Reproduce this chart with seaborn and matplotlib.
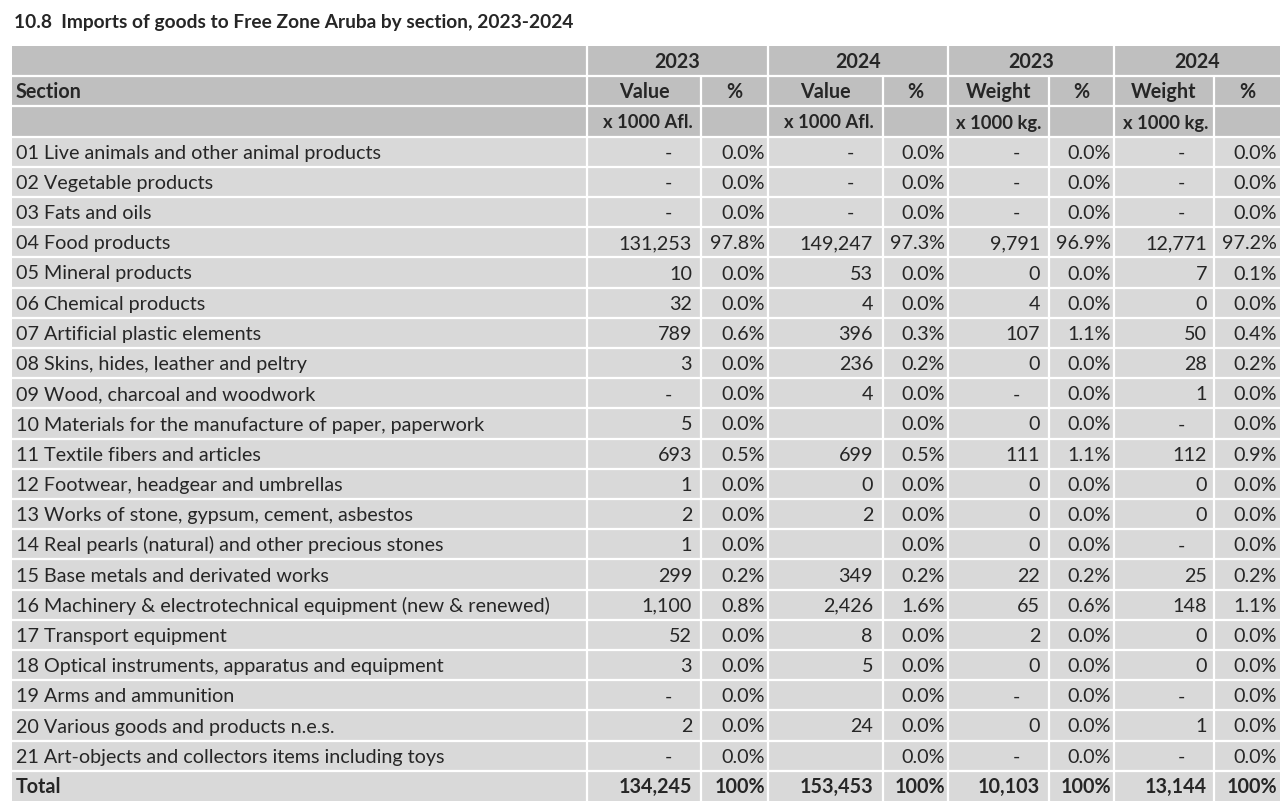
import numpy as np
import matplotlib.pyplot as plt
import matplotlib.patches as mpatches
import seaborn as sns

sns.set_theme(style="white")
plt.rcParams['font.family'] = ['Lato', 'DejaVu Sans']

title = '10.8  Imports of goods to Free Zone Aruba by section, 2023-2024'

sections = [
    '01 Live animals and other animal products',
    '02 Vegetable products',
    '03 Fats and oils',
    '04 Food products',
    '05 Mineral products',
    '06 Chemical products',
    '07 Artificial plastic elements',
    '08 Skins, hides, leather and peltry',
    '09 Wood, charcoal and woodwork',
    '10 Materials for the manufacture of paper, paperwork',
    '11 Textile fibers and articles',
    '12 Footwear, headgear and umbrellas',
    '13 Works of stone, gypsum, cement, asbestos',
    '14 Real pearls (natural) and other precious stones',
    '15 Base metals and derivated works',
    '16 Machinery & electrotechnical equipment (new & renewed)',
    '17 Transport equipment',
    '18 Optical instruments, apparatus and equipment',
    '19 Arms and ammunition',
    '20 Various goods and products n.e.s.',
    '21 Art-objects and collectors items including toys',
]

# None = '-' (nil), nan = empty cell
N = None
E = np.nan
value_2023 = [N, N, N, 131253, 10, 32, 789, 3, N, 5, 693, 1, 2, 1, 299, 1100, 52, 3, N, 2, N]
pct_value_2023 = [0.0, 0.0, 0.0, 97.8, 0.0, 0.0, 0.6, 0.0, 0.0, 0.0, 0.5, 0.0, 0.0, 0.0, 0.2, 0.8, 0.0, 0.0, 0.0, 0.0, 0.0]
value_2024 = [N, N, N, 149247, 53, 4, 396, 236, 4, E, 699, 0, 2, E, 349, 2426, 8, 5, E, 24, E]
pct_value_2024 = [0.0, 0.0, 0.0, 97.3, 0.0, 0.0, 0.3, 0.2, 0.0, 0.0, 0.5, 0.0, 0.0, 0.0, 0.2, 1.6, 0.0, 0.0, 0.0, 0.0, 0.0]
weight_2023 = [N, N, N, 9791, 0, 4, 107, 0, N, 0, 111, 0, 0, 0, 22, 65, 2, 0, N, 0, N]
pct_weight_2023 = [0.0, 0.0, 0.0, 96.9, 0.0, 0.0, 1.1, 0.0, 0.0, 0.0, 1.1, 0.0, 0.0, 0.0, 0.2, 0.6, 0.0, 0.0, 0.0, 0.0, 0.0]
weight_2024 = [N, N, N, 12771, 7, 0, 50, 28, 1, N, 112, 0, 0, N, 25, 148, 0, 0, N, 1, N]
pct_weight_2024 = [0.0, 0.0, 0.0, 97.2, 0.1, 0.0, 0.4, 0.2, 0.0, 0.0, 0.9, 0.0, 0.0, 0.0, 0.2, 1.1, 0.0, 0.0, 0.0, 0.0, 0.0]
totals = [134245, 153453, 10103, 13144]

years = ['2023', '2024', '2023', '2024']
measures = ['Value', '%', 'Value', '%', 'Weight', '%', 'Weight', '%']
units = ['x 1000 Afl.', '', 'x 1000 Afl.', '', 'x 1000 kg.', '', 'x 1000 kg.', '']

# layout (pixels)
col_edges = [12, 587, 701, 768, 883, 948, 1049, 1114, 1214, 1280]
num_pad = [9, 3, 10, 3, 9, 3, 7, 3]
top = 46
row_h = 30.2
n_rows = 3 + len(sections) + 1
header_bg = '#bfbfbf'
body_bg = '#d9d9d9'
fs = 14.2
fs_units = 13.2
base_off = 7  # baseline below row centre


def fmt_num(v):
    if v is None:
        return '-'
    if isinstance(v, float) and np.isnan(v):
        return ''
    return f'{v:,}'


fig = plt.figure(figsize=(12.82, 8.01), dpi=100)
ax = fig.add_axes([0, 0, 1, 1])
ax.set_xlim(0, 1282)
ax.set_ylim(801, 0)
ax.axis('off')

ax.text(14, 28, title, fontsize=13.8, fontweight='bold', ha='left', va='baseline')

# backgrounds
ax.add_patch(mpatches.Rectangle((col_edges[0], top), col_edges[-1] - col_edges[0], 3 * row_h,
                                facecolor=header_bg, edgecolor='none'))
ax.add_patch(mpatches.Rectangle((col_edges[0], top + 3 * row_h), col_edges[-1] - col_edges[0],
                                (n_rows - 3) * row_h, facecolor=body_bg, edgecolor='none'))

# white grid lines
for r in range(1, n_rows):
    y = top + r * row_h
    ax.plot([col_edges[0], col_edges[-1]], [y, y], color='white', lw=1.6)
for j, x in enumerate(col_edges[1:-1], start=1):
    y0 = top if j % 2 == 1 else top + row_h
    ax.plot([x, x], [y0, top + n_rows * row_h], color='white', lw=1.6)


def yb(r):
    return top + (r + 0.5) * row_h + base_off


# header
for g, yr in enumerate(years):
    x0, x1 = col_edges[1 + 2 * g], col_edges[3 + 2 * g]
    ax.text((x0 + x1) / 2, yb(0), yr, fontsize=fs, fontweight='bold', ha='center', va='baseline')
ax.text(16, yb(1), 'Section', fontsize=fs, fontweight='bold', ha='left', va='baseline')
for c, m in enumerate(measures):
    x0, x1 = col_edges[1 + c], col_edges[2 + c]
    ax.text((x0 + x1) / 2, yb(1), m, fontsize=fs, fontweight='bold', ha='center', va='baseline')
    if units[c]:
        ax.text(x1 - num_pad[c] + 1, yb(2), units[c], fontsize=fs_units, fontweight='bold',
                ha='right', va='baseline')

# body
cols = [value_2023, pct_value_2023, value_2024, pct_value_2024,
        weight_2023, pct_weight_2023, weight_2024, pct_weight_2024]
for i, name in enumerate(sections):
    r = 3 + i
    ax.text(16, yb(r), name, fontsize=fs, ha='left', va='baseline')
    for c, series in enumerate(cols):
        x1 = col_edges[2 + c]
        v = series[i]
        if c % 2 == 1:
            ax.text(x1 - num_pad[c], yb(r), f'{v:.1f}%', fontsize=fs, ha='right', va='baseline')
        elif v is None:
            ax.text(x1 - 33, yb(r), '-', fontsize=fs, ha='center', va='baseline')
        else:
            ax.text(x1 - num_pad[c], yb(r), fmt_num(v), fontsize=fs, ha='right', va='baseline')

r = n_rows - 1
ax.text(16, yb(r), 'Total', fontsize=fs, fontweight='bold', ha='left', va='baseline')
for g, t in enumerate(totals):
    c = 2 * g
    ax.text(col_edges[2 + c] - num_pad[c], yb(r), fmt_num(t), fontsize=fs, fontweight='bold',
            ha='right', va='baseline')
    ax.text(col_edges[3 + c] - num_pad[c + 1], yb(r), '100%', fontsize=fs, fontweight='bold',
            ha='right', va='baseline')

fig.savefig('out.png', dpi=100)
